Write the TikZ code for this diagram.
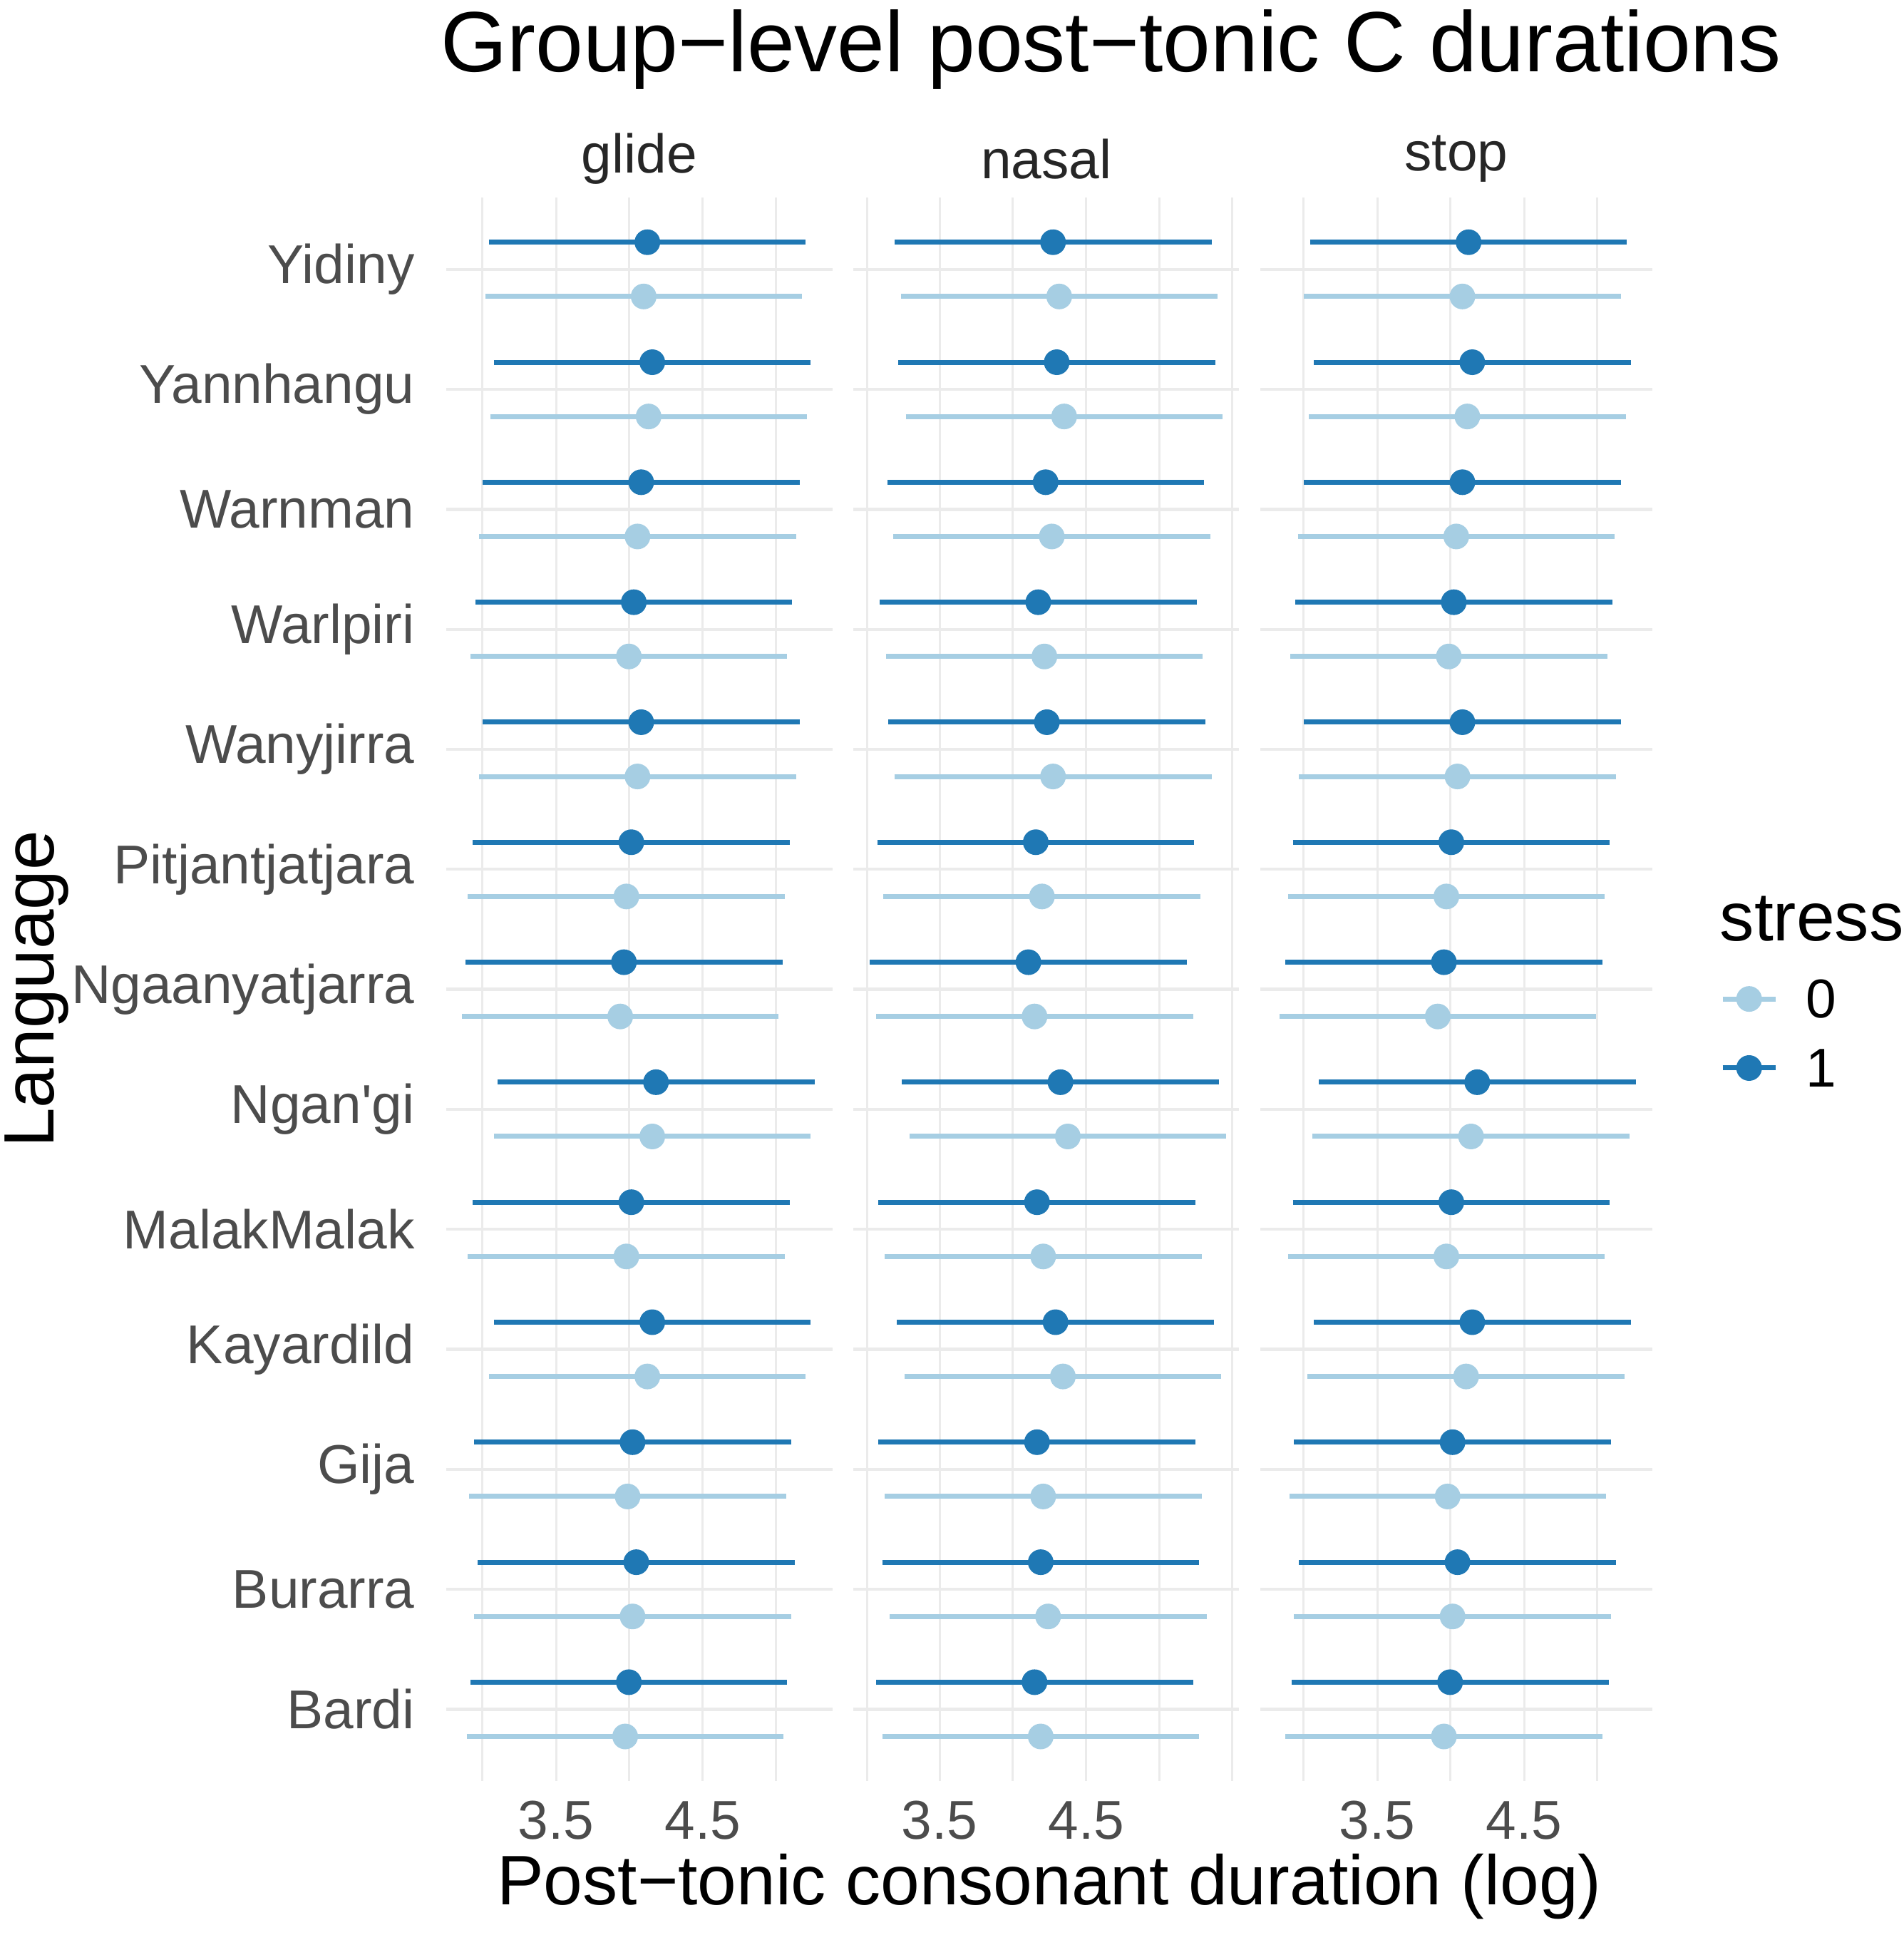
\documentclass[tikz,border=0pt]{standalone}
\usepackage{fontspec}
\setmainfont{Liberation Sans}
\begin{document}
\begin{tikzpicture}[x=0.519pt,y=-0.519pt,
  grid/.style={draw=black!8,line width=0.9pt},
  hgrid/.style={draw=black!8,line width=1.3pt},
  wh/.style={line width=2.1pt},
  lab/.style={text=black!70,font=\fontsize{23}{27}\selectfont},
]
\useasboundingbox (0,0) rectangle (1544,1569);
\definecolor{dk}{HTML}{1F78B4}
\definecolor{lt}{HTML}{A6CEE3}
\foreach \s/\e in {362/675,692/1005,1022/1340}{
  \foreach \k in {0,...,12}{
    \draw[hgrid] (\s,218.4+\k*97.3) -- (\e,218.4+\k*97.3);
  }
}
\foreach \g in {391,451,510,570,629,703,762,821,881,940,999,1057,1117,1176,1236,1295}{
  \draw[grid] (\g,160) -- (\g,1444);
}
\foreach \k/\nm/\ad/\al/\bd/\bl/\cd/\cl in {
0/Yidiny/525/522/854/859/1191/1186,
1/Yannhangu/529/526/857/863/1194/1190,
2/Warnman/520/517/848/853/1186/1181,
3/Warlpiri/514/510/842/847/1179/1175,
4/Wanyjirra/520/517/849/854/1186/1182,
5/Pitjantjatjara/512/508/840/845/1177/1173,
6/Ngaanyatjarra/506/503/834/839/1171/1166,
7/Ngan\textquotesingle gi/532/529/860/866/1198/1193,
8/MalakMalak/512/508/841/846/1177/1173,
9/Kayardild/529/525/856/862/1194/1189,
10/Gija/513/509/841/846/1178/1174,
11/Burarra/516/513/844/850/1182/1178,
12/Bardi/510/507/839/844/1176/1171}{
  \pgfmathsetmacro\yy{218.4+\k*97.3}
  \node[lab,anchor=east] (L\k) at (343,\yy) {\nm};
  \foreach \xx/\c/\dy in {\ad/dk/-22,\al/lt/22,\bd/dk/-22,\bl/lt/22,\cd/dk/-22,\cl/lt/22}{
    \draw[wh,\c] (\xx-128.5,\yy+\dy) -- (\xx+128.5,\yy+\dy);
    \fill[\c] (\xx,\yy+\dy) circle (10.4);
  }
}
\foreach \g/\t in {451/3.5,570/4.5,762/3.5,881/4.5,1117/3.5,1236/4.5}{
  \node[lab] at (\g,1476) {\t};
}
\foreach \x/\t in {518.5/glide,848.5/nasal,1181/stop}{
  \node[font=\fontsize{23}{27}\selectfont,text=black!85] at (\x,129) {\t};
}
\node[font=\fontsize{36}{42}\selectfont] (title) at (901,40) {Group−level post−tonic C durations};
\node[font=\fontsize{29.5}{34}\selectfont] (xt) at (851,1530) {Post−tonic consonant duration (log)};
\node[font=\fontsize{30}{36}\selectfont,rotate=90] (yt) at (30,802) {Language};
\node[font=\fontsize{29}{34}\selectfont,anchor=west] (lg) at (1388,745) {stress};
\coordinate (k0a) at (1397,810); \coordinate (k0b) at (1440,810);
\coordinate (k1a) at (1397,866); \coordinate (k1b) at (1440,866);
\draw[wh,lt] (k0a) -- (k0b); \fill[lt] (1418.5,810) circle (10.4);
\draw[wh,dk] (k1a) -- (k1b); \fill[dk] (1418.5,866) circle (10.4);
\node[font=\fontsize{23}{27}\selectfont,anchor=west] (l0) at (1458,810) {0};
\node[font=\fontsize{23}{27}\selectfont,anchor=west] (l1) at (1458,866) {1};
\end{tikzpicture}
\end{document}
